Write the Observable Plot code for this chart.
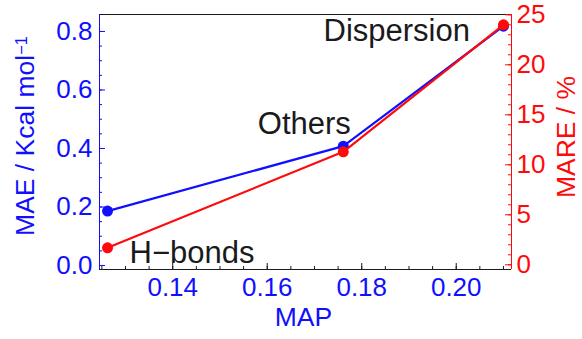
<!DOCTYPE html>
<html><head><meta charset="utf-8">
<script src="https://cdn.jsdelivr.net/npm/d3@7"></script>
<script src="https://cdn.jsdelivr.net/npm/@observablehq/plot@0.6"></script>
<style>html,body{margin:0;padding:0;background:#fff} svg{display:block}</style>
</head><body><div id="chart"></div>
<script>
const categories = ["H\u2212bonds", "Others", "Dispersion"];
const mapValues = [0.1262, 0.1761, 0.2100];
const maeValues = [0.186, 0.408, 0.818];
const mareValues = [1.7, 11.3, 24.0];
const leftTicks = [0, 0.2, 0.4, 0.6, 0.8];
const rightTicks = [0, 5, 10, 15, 20, 25];
const xTicks = [0.14, 0.16, 0.18, 0.20];
const leftMinor = d3.range(0, 17).map(i => i * 0.05);
const rightMinor = d3.range(0, 26);
const xMinor = d3.range(25, 43).map(i => i * 0.005);

const xDomain = [0.1245, 0.2117];
const yDomain = [-0.0137, 0.858];
const rDomain = [-0.47, 25.03];
const toLeft = v => yDomain[0] + (v - rDomain[0]) / (rDomain[1] - rDomain[0]) * (yDomain[1] - yDomain[0]);
const toRight = v => rDomain[0] + (v - yDomain[0]) / (yDomain[1] - yDomain[0]) * (rDomain[1] - rDomain[0]);

const rows = categories.map((c, i) => ({c, map: mapValues[i], mae: maeValues[i], mare: mareValues[i], mareL: toLeft(mareValues[i])}));

const W = 582, H = 339, ml = 99, mr = 71, mt = 14, mb = 70;
const pw = W - ml - mr, ph = H - mt - mb;
const blue = "#1010ff", red = "#ff0a0a", ink = "#1a1a1a";
const font = "'Liberation Sans', Arial, Helvetica, sans-serif";
const tickFs = 26, titleFs = 26.5, noteFs = 31;

const chart = Plot.plot({
  width: W, height: H, marginLeft: ml, marginRight: mr, marginTop: mt, marginBottom: mb,
  style: {fontFamily: font, background: "white", overflow: "visible"},
  x: {domain: xDomain},
  y: {domain: yDomain},
  marks: [
    // frame lines
    Plot.ruleY([yDomain[1]], {stroke: ink, strokeWidth: 1}),
    Plot.ruleY([yDomain[0]], {stroke: ink, strokeWidth: 1}),
    Plot.ruleX([xDomain[0]], {stroke: blue, strokeWidth: 1}),
    Plot.ruleX([xDomain[1]], {stroke: red, strokeWidth: 1}),
    // inward ticks
    Plot.tickY(leftMinor.filter(d => d <= yDomain[1]), {y: d => d, stroke: blue, insetRight: pw - 3}),
    Plot.tickY(leftTicks, {y: d => d, stroke: blue, insetRight: pw - 6}),
    Plot.tickY(rightMinor.map(toLeft), {y: d => d, stroke: red, insetLeft: pw - 3}),
    Plot.tickY(rightTicks.map(toLeft), {y: d => d, stroke: red, insetLeft: pw - 6}),
    Plot.tickX(xMinor, {x: d => d, stroke: ink, insetTop: ph - 3}),
    Plot.tickX(xTicks, {x: d => d, stroke: ink, insetTop: ph - 6}),
    // axis labels
    Plot.axisX(xTicks, {anchor: "bottom", tickSize: 0, tickPadding: 8, fontSize: tickFs, fill: blue, tickFormat: d3.format(".2f"), label: null}),
    Plot.axisY(leftTicks, {anchor: "left", tickSize: 0, tickPadding: 7, fontSize: tickFs, fill: blue, tickFormat: d3.format(".1f"), label: null}),
    Plot.axisY(rightTicks.map(toLeft), {anchor: "right", tickSize: 0, tickPadding: 5, fontSize: tickFs, fill: red, tickFormat: d => String(Math.round(toRight(d))), label: null}),
    // axis titles
    Plot.text(["MAP"], {frameAnchor: "bottom", textAnchor: "middle", dy: 56, dx: -2, fontSize: titleFs, fill: blue, text: d => d}),
    Plot.text(["MAE / Kcal mol"], {frameAnchor: "left", textAnchor: "middle", dx: -74, dy: -6, rotate: -90, fontSize: titleFs, fill: blue, text: d => d}),
    Plot.text(["MARE / %"], {frameAnchor: "right", textAnchor: "middle", dx: 55, dy: -5, rotate: -90, fontSize: titleFs, fill: red, text: d => d}),
    // series
    Plot.line(rows, {x: "map", y: "mae", stroke: blue, strokeWidth: 2.2}),
    Plot.dot(rows, {x: "map", y: "mae", fill: blue, r: 5.5}),
    Plot.line(rows, {x: "map", y: "mareL", stroke: red, strokeWidth: 2.2}),
    Plot.dot(rows, {x: "map", y: "mareL", fill: red, r: 5.5}),
    // annotations
    Plot.text(rows.slice(0, 1), {x: "map", y: "mareL", text: "c", textAnchor: "start", lineAnchor: "bottom", dx: 22, dy: 15.5, fontSize: noteFs, fill: ink}),
    Plot.text(rows.slice(1, 2), {x: "map", y: "mae", text: "c", textAnchor: "end", lineAnchor: "bottom", dx: 7.5, dy: -12, fontSize: noteFs, fill: ink}),
    Plot.text(rows.slice(2, 3), {x: "map", y: "mareL", text: "c", textAnchor: "end", lineAnchor: "bottom", dx: -33.5, dy: 16.5, fontSize: noteFs, fill: ink})
  ]
});
document.getElementById("chart").appendChild(chart);
// superscript on the left title
d3.select(chart).selectAll("text").each(function() {
  if (this.textContent === "MAE / Kcal mol") {
    d3.select(this).append("tspan").attr("dy", "-0.45em").attr("font-size", "0.62em").text("\u22121");
  }
});
</script>
</body></html>
